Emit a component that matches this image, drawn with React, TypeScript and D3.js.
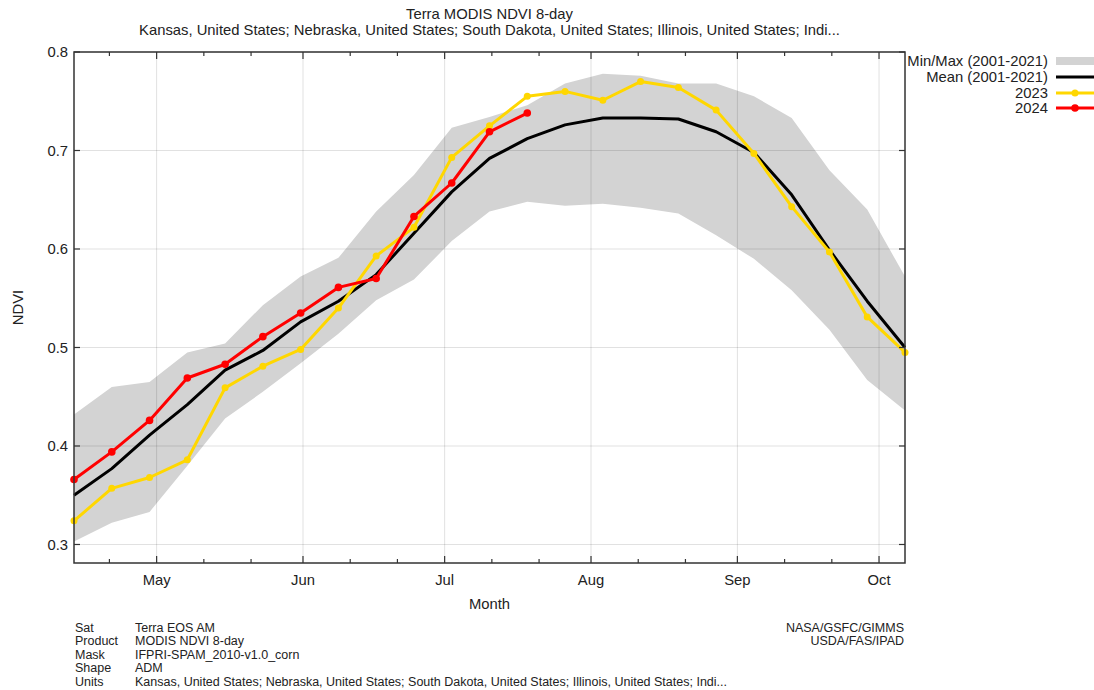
import React from 'react';
import * as d3 from 'd3';

// ---------- data ----------
const firstComposite = Date.UTC(2023, 3, 13, 12); // first 8-day composite plotted
const compositeDays = 8;

const minNdvi = [0.303, 0.322, 0.333, 0.380, 0.428, 0.455, 0.484, 0.514, 0.548, 0.569, 0.608, 0.638, 0.648, 0.644, 0.646, 0.642, 0.636, 0.614, 0.590, 0.558, 0.518, 0.467, 0.436];
const maxNdvi = [0.432, 0.460, 0.465, 0.495, 0.504, 0.543, 0.572, 0.591, 0.638, 0.675, 0.723, 0.734, 0.746, 0.768, 0.778, 0.776, 0.768, 0.768, 0.755, 0.733, 0.680, 0.640, 0.572];
const meanNdvi = [0.350, 0.377, 0.411, 0.442, 0.477, 0.497, 0.526, 0.547, 0.574, 0.616, 0.658, 0.692, 0.712, 0.726, 0.733, 0.733, 0.732, 0.719, 0.698, 0.655, 0.599, 0.547, 0.500];
const ndvi2023 = [0.324, 0.357, 0.368, 0.386, 0.459, 0.481, 0.498, 0.540, 0.593, 0.622, 0.693, 0.725, 0.755, 0.760, 0.751, 0.770, 0.764, 0.741, 0.697, 0.643, 0.597, 0.531, 0.495];
const ndvi2024 = [0.366, 0.394, 0.426, 0.469, 0.483, 0.511, 0.535, 0.561, 0.570, 0.633, 0.667, 0.719, 0.738];

const yTicks = [0.3, 0.4, 0.5, 0.6, 0.7, 0.8];
const yTickLabels = ['0.3', '0.4', '0.5', '0.6', '0.7', '0.8'];
const monthTickLabels = ['May', 'Jun', 'Jul', 'Aug', 'Sep', 'Oct'];
const monthTickMonths = [4, 5, 6, 7, 8, 9];
const minorTickDays = [11, 21];

const legendLabels = ['Min/Max (2001-2021)', 'Mean (2001-2021)', '2023', '2024'];

const titleText = 'Terra MODIS NDVI 8-day';
const unitsText = 'Kansas, United States; Nebraska, United States; South Dakota, United States; Illinois, United States; Indi...';
const footerKeys = ['Sat', 'Product', 'Mask', 'Shape', 'Units'];
const footerValues = ['Terra EOS AM', 'MODIS NDVI 8-day', 'IFPRI-SPAM_2010-v1.0_corn', 'ADM', unitsText];
const creditLines = ['NASA/GSFC/GIMMS', 'USDA/FAS/IPAD'];

// ---------- layout ----------
const W = 1094, H = 690;
const L = 74, R = 905, T = 52, B = 563;
const FONT = '"Liberation Sans", Arial, Helvetica, sans-serif';
const NARROW = '"Liberation Sans Narrow", "Arial Narrow", "Liberation Sans", sans-serif';
const FS = 14.8;
const GOLD = '#ffd700';
const RED = '#ff0000';
const BAND = '#d3d3d3';
const AXIS = '#333333';
const TXT = '#222222';

const dateAt = (i: number) => new Date(firstComposite + i * compositeDays * 86400000);

export default function App() {
  const x = d3.scaleUtc()
    .domain([dateAt(0), dateAt(minNdvi.length - 1)])
    .range([L, R]);
  const y = d3.scaleLinear().domain([0.2812, 0.8]).range([B, T]);

  const area = d3.area<number>()
    .x((_, i) => x(dateAt(i)))
    .y0((_, i) => y(minNdvi[i]))
    .y1((_, i) => y(maxNdvi[i]));
  const line = d3.line<number>()
    .x((_, i) => x(dateAt(i)))
    .y((d) => y(d));

  const majorDates = monthTickMonths.map((m) => new Date(Date.UTC(2023, m, 1)));
  const minorDates: Date[] = [];
  for (let m = 3; m <= 9; m++) {
    for (const d of minorTickDays) {
      const dt = new Date(Date.UTC(2023, m, d));
      if (dt >= x.domain()[0] && dt <= x.domain()[1]) minorDates.push(dt);
    }
  }

  const legendRowsY = [61, 77, 93, 108];

  return (
    <div style={{ position: 'absolute', left: 0, top: 0, width: W, height: H, background: '#fff' }}>
      <svg width={W} height={H} style={{ display: 'block' }} fontFamily={FONT}>
        <rect x={0} y={0} width={W} height={H} fill="#fff" />
        {/* title */}
        <text x={(L + R) / 2} y={19} textAnchor="middle" fontSize={FS} fill={TXT}>{titleText}</text>
        <text x={(L + R) / 2} y={35} textAnchor="middle" fontSize={FS} fill={TXT}>{unitsText}</text>

        {/* band */}
        <path d={area(minNdvi) || ''} fill={BAND} stroke="none" />

        {/* grid */}
        <g stroke="rgba(0,0,0,0.12)" strokeWidth={1}>
          {yTicks.map((t) => (
            <line key={'gy' + t} x1={L} x2={R} y1={y(t)} y2={y(t)} />
          ))}
          {majorDates.map((d) => (
            <line key={'gx' + d.getTime()} x1={x(d)} x2={x(d)} y1={T} y2={B} />
          ))}
        </g>

        {/* series */}
        <path d={line(meanNdvi) || ''} fill="none" stroke="#000" strokeWidth={3} strokeLinejoin="round" />
        <path d={line(ndvi2023) || ''} fill="none" stroke={GOLD} strokeWidth={3} strokeLinejoin="round" />
        {ndvi2023.map((v, i) => (
          <circle key={'p23' + i} cx={x(dateAt(i))} cy={y(v)} r={3.5} fill={GOLD} />
        ))}
        <path d={line(ndvi2024) || ''} fill="none" stroke={RED} strokeWidth={3} strokeLinejoin="round" />
        {ndvi2024.map((v, i) => (
          <circle key={'p24' + i} cx={x(dateAt(i))} cy={y(v)} r={3.8} fill={RED} />
        ))}

        {/* frame */}
        <rect x={L} y={T} width={R - L} height={B - T} fill="none" stroke={AXIS} strokeWidth={1.5} />

        {/* y ticks */}
        {yTicks.map((t, i) => (
          <g key={'yt' + t}>
            <line x1={L} x2={L + 6} y1={y(t)} y2={y(t)} stroke={AXIS} strokeWidth={1.2} />
            <line x1={R} x2={R - 6} y1={y(t)} y2={y(t)} stroke={AXIS} strokeWidth={1.2} />
            <text x={68} y={y(t)} dy="0.35em" textAnchor="end" fontSize={FS} fill={TXT}>{yTickLabels[i]}</text>
          </g>
        ))}

        {/* x ticks */}
        {majorDates.map((d, i) => (
          <g key={'xt' + i}>
            <line x1={x(d)} x2={x(d)} y1={B} y2={B - 7} stroke={AXIS} strokeWidth={1.2} />
            <line x1={x(d)} x2={x(d)} y1={T} y2={T + 7} stroke={AXIS} strokeWidth={1.2} />
            <text x={x(d)} y={584.5} textAnchor="middle" fontSize={FS} fill={TXT}>{monthTickLabels[i]}</text>
          </g>
        ))}
        {minorDates.map((d, i) => (
          <g key={'xm' + i}>
            <line x1={x(d)} x2={x(d)} y1={B} y2={B - 4} stroke={AXIS} strokeWidth={1.2} />
            <line x1={x(d)} x2={x(d)} y1={T} y2={T + 4} stroke={AXIS} strokeWidth={1.2} />
          </g>
        ))}

        {/* axis titles */}
        <text x={(L + R) / 2} y={608.5} textAnchor="middle" fontSize={FS} fill={TXT}>Month</text>
        <text transform={`translate(23, ${(T + B) / 2}) rotate(-90)`} textAnchor="middle" fontSize={FS} fill={TXT}>NDVI</text>

        {/* legend */}
        {legendLabels.map((lab, i) => (
          <text key={'lg' + i} x={1048} y={legendRowsY[i]} dy="0.35em" textAnchor="end" fontSize={FS} fill={TXT}>{lab}</text>
        ))}
        <rect x={1056} y={legendRowsY[0] - 4} width={40} height={8} fill={BAND} />
        <line x1={1056} x2={1096} y1={legendRowsY[1]} y2={legendRowsY[1]} stroke="#000" strokeWidth={3} />
        <line x1={1056} x2={1096} y1={legendRowsY[2]} y2={legendRowsY[2]} stroke={GOLD} strokeWidth={3} />
        <circle cx={1075} cy={legendRowsY[2]} r={3.5} fill={GOLD} />
        <line x1={1056} x2={1096} y1={legendRowsY[3]} y2={legendRowsY[3]} stroke={RED} strokeWidth={3} />
        <circle cx={1075} cy={legendRowsY[3]} r={3.8} fill={RED} />

        {/* footer */}
        <g fontFamily={NARROW} fontSize={12.5} fill={TXT}>
          {footerKeys.map((k, i) => (
            <g key={'ft' + i}>
              <text x={75} y={631.5 + i * 13.5}>{k}</text>
              <text x={135} y={631.5 + i * 13.5}>{footerValues[i]}</text>
            </g>
          ))}
          {creditLines.map((c, i) => (
            <text key={'cr' + i} x={904} y={631.5 + i * 13.5} textAnchor="end">{c}</text>
          ))}
        </g>
      </svg>
    </div>
  );
}
